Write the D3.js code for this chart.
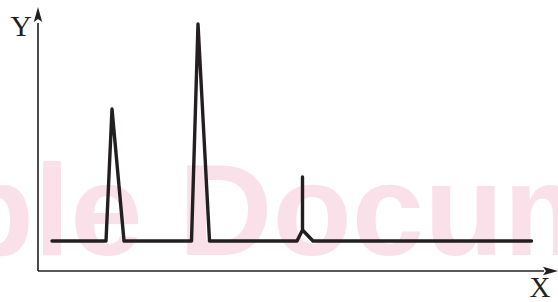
<!DOCTYPE html>
<html>
<head>
<meta charset="utf-8">
<script src="https://cdn.jsdelivr.net/npm/d3@7"></script>
<style>
  body { margin: 0; background: #fff; }
  svg { display: block; }
</style>
</head>
<body>
<script>
// trace of the signal: baseline with three spikes
var traceX = [14, 68, 74, 86, 153.5, 160, 171.5, 259, 264.5, 264.5, 264.5, 275, 493.5];
var traceY = [30, 30, 162, 30, 30, 247, 30, 30, 41, 94, 41, 30, 30];
var axisLabels = ["X", "Y"];
var watermark = "Sample Document";

var w = 558,
    h = 302;
var ink = "#231f20";

var svg = d3.select("body").append("svg").attr("width", w).attr("height", h);

var x = d3.scaleLinear().domain([0, 520]).range([38, 558]);
var y = d3.scaleLinear().domain([0, 264]).range([271, 7]);

// watermark behind everything
var wm = svg.append("text")
    .text(watermark)
    .attr("y", 255)
    .style("font-family", "'Liberation Sans', Arial, sans-serif")
    .style("font-weight", "bold")
    .style("font-size", "130px")
    .attr("fill", "#fae0e9");
// shift so the "l" lands where it does in the picture
var lx = wm.node().getStartPositionOfChar(4).x;
wm.attr("x", 34 - lx);

// axes
svg.append("line")
    .attr("x1", x(0)).attr("y1", y(0))
    .attr("x2", x(0)).attr("y2", y(248))
    .attr("stroke", ink).attr("stroke-width", 1.6);
svg.append("line")
    .attr("x1", x(0)).attr("y1", y(0))
    .attr("x2", x(506)).attr("y2", y(0))
    .attr("stroke", ink).attr("stroke-width", 1.6);

// arrow heads
var ax = x(0), ay = y(264);
svg.append("path")
    .attr("d", "M" + ax + "," + ay + " L" + (ax + 4.2) + "," + (ay + 15) +
      " L" + ax + "," + (ay + 12) + " L" + (ax - 4.2) + "," + (ay + 15) + "Z")
    .attr("fill", ink);
var bx = x(520), by = y(0);
svg.append("path")
    .attr("d", "M" + bx + "," + by + " L" + (bx - 15) + "," + (by - 4.2) +
      " L" + (bx - 12) + "," + by + " L" + (bx - 15) + "," + (by + 4.2) + "Z")
    .attr("fill", ink);

// axis labels
svg.append("text").text(axisLabels[1])
    .attr("x", 21).attr("y", 36)
    .attr("text-anchor", "middle")
    .style("font-family", "'Liberation Serif', 'Times New Roman', serif")
    .style("font-size", "30px")
    .attr("fill", ink);
svg.append("text").text(axisLabels[0])
    .attr("x", 540).attr("y", 297)
    .attr("text-anchor", "middle")
    .style("font-family", "'Liberation Serif', 'Times New Roman', serif")
    .style("font-size", "29px")
    .attr("fill", ink);

// the trace
var pts = traceX.map(function(d, i) { return [d, traceY[i]]; });
var line = d3.line()
    .x(function(d) { return x(d[0]); })
    .y(function(d) { return y(d[1]); });

svg.append("path")
    .datum(pts)
    .attr("d", line)
    .attr("fill", "none")
    .attr("stroke", ink)
    .attr("stroke-width", 3.4)
    .attr("stroke-linejoin", "round")
    .attr("stroke-linecap", "round");
</script>
</body>
</html>
